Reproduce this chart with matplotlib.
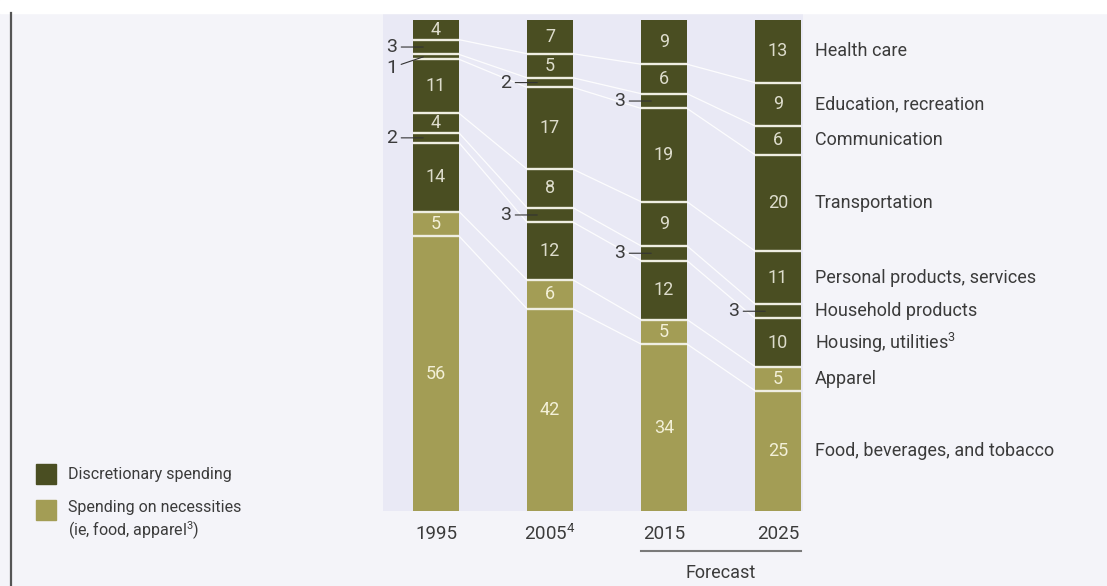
import numpy as np
import matplotlib.pyplot as plt
from matplotlib.patches import Rectangle
from matplotlib.lines import Line2D

plt.rcParams['font.family'] = ['Roboto', 'DejaVu Sans']
plt.rcParams['mathtext.fontset'] = 'custom'
plt.rcParams['mathtext.rm'] = 'Roboto'
plt.rcParams['mathtext.it'] = 'Roboto'

# share of consumer spending, %, bottom segment first
years = ['1995', '2005$^4$', '2015', '2025']
categories = ['Food, beverages, and tobacco', 'Apparel', 'Housing, utilities$^3$',
              'Household products', 'Personal products, services', 'Transportation',
              'Communication', 'Education, recreation', 'Health care']
n_necessities = 2   # first two categories are necessities

food = [56, 42, 34, 25]
apparel = [5, 6, 5, 5]
housing = [14, 12, 12, 10]
household = [2, 3, 3, 3]
personal = [4, 8, 9, 11]
transport = [11, 17, 19, 20]
communication = [1, 2, 3, 6]
education = [3, 5, 6, 9]
health = [4, 7, 9, 13]

values = np.array([food, apparel, housing, household, personal, transport,
                   communication, education, health], dtype=float)
# rounded shares don't always add to 100, scale each column to full height
heights = values / values.sum(axis=0) * 100
tops = np.cumsum(heights, axis=0)
bottoms = tops - heights

dark = '#4a4e22'
light = '#a39d55'
sep = '#efeee2'
txt = '#3b3b3b'
bg = '#f4f4f9'
band = '#e9e9f5'

W, H = 1107, 586
fig = plt.figure(figsize=(W / 100, H / 100), dpi=100, facecolor=bg)

# white strip on top and frame line on the left
fig.patches.append(Rectangle((0, 1 - 13 / H), 1, 13 / H, transform=fig.transFigure,
                             color='white', zorder=0))
fig.add_artist(Line2D([11 / W, 11 / W], [0, 1 - 13 / H], transform=fig.transFigure,
                      color='#555555', lw=1.6))

ax = fig.add_axes([383 / W, 75 / H, 420 / W, 498 / H])
ax.set_facecolor(band)
x = np.arange(len(years))
w = 0.4035
ax.set_xlim(-0.465, 3.219)
ax.set_ylim(0, 101.43)
for s in ax.spines.values():
    s.set_visible(False)
ax.set_xticks([])
ax.set_yticks([])

# thin lines joining the same boundary on neighbouring bars
for k in range(len(categories) - 1):
    for i in range(len(years) - 1):
        ax.plot([x[i] + w / 2, x[i + 1] - w / 2], [tops[k, i], tops[k, i + 1]],
                color='white', lw=0.9, alpha=0.9, zorder=2)

for k in range(len(categories)):
    c = light if k < n_necessities else dark
    ax.bar(x, heights[k], w, bottom=bottoms[k], color=c, zorder=3, linewidth=0)
    if k < len(categories) - 1:
        ax.hlines(tops[k], x - w / 2, x + w / 2, color=sep, lw=1.7, zorder=4)

# segment values: inside when there is room, otherwise to the left with a leader
for i in range(len(years)):
    last_out = None
    for k in range(len(categories) - 1, -1, -1):
        v = values[k, i]
        mid = bottoms[k, i] + heights[k, i] / 2
        if v > 3:
            ax.text(x[i], mid, f'{v:.0f}', ha='center', va='center', fontsize=13,
                    color='#f3f0d8' if k < n_necessities else '#dddccc', zorder=5)
        else:
            ty = mid
            if last_out is not None and last_out - ty < 4.2:
                ty = last_out - 4.2
            last_out = ty
            ax.annotate(f'{v:.0f}', xy=(x[i] - w / 2 + 0.09, mid),
                        xytext=(x[i] - w / 2 - 0.14, ty), ha='right', va='center',
                        fontsize=14, color=txt, zorder=5, annotation_clip=False,
                        arrowprops=dict(arrowstyle='-', color='#333333', lw=0.8,
                                        shrinkA=1, shrinkB=0))

# category names beside the last bar
for k, name in enumerate(categories):
    mid = bottoms[k, -1] + heights[k, -1] / 2
    ax.text(x[-1] + w / 2 + 0.12, mid, name, ha='left', va='center', fontsize=13,
            color=txt, clip_on=False)

for i, yr in enumerate(years):
    ax.text(x[i], -4.7, yr, ha='center', va='center', fontsize=13.5, color=txt,
            clip_on=False)

# forecast bracket under the last two years
ax.plot([x[2] - w / 2, x[3] + w / 2], [-8.2, -8.2], color='#7a7a7a', lw=1.5,
        clip_on=False)
ax.text((x[2] + x[3]) / 2, -12.7, 'Forecast', ha='center', va='center', fontsize=13,
        color=txt, clip_on=False)

# legend
fig.patches.append(Rectangle((36 / W, 1 - 484 / H), 20 / W, 20 / H,
                             transform=fig.transFigure, color=dark))
fig.patches.append(Rectangle((36 / W, 1 - 520 / H), 20 / W, 20 / H,
                             transform=fig.transFigure, color=light))
fig.text(68 / W, 1 - 474 / H, 'Discretionary spending', ha='left', va='center',
         fontsize=11.5, color=txt)
fig.text(68 / W, 1 - 500 / H, 'Spending on necessities\n(ie, food, apparel$^3$)',
         ha='left', va='top', fontsize=11.5, color=txt, linespacing=1.25)

fig.savefig('out.png', dpi=100, facecolor=bg)
